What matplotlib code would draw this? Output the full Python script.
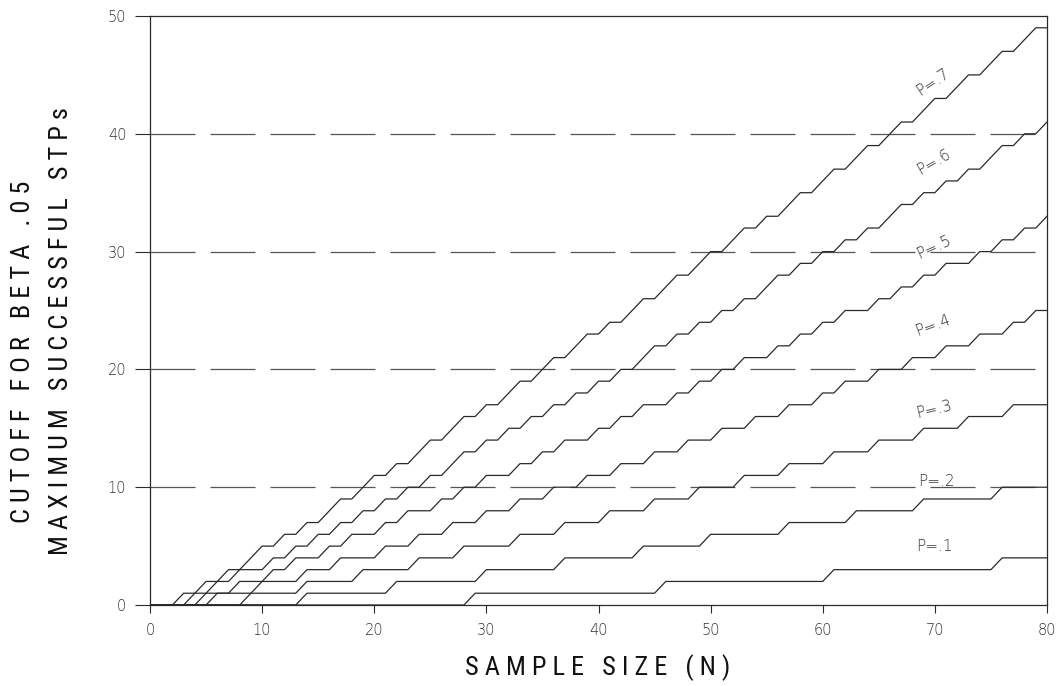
import numpy as np
import matplotlib
matplotlib.use('Agg')
import matplotlib.pyplot as plt

# sample sizes plotted along the x axis
sample_sizes = np.arange(0, 81)

# sample size at which each cutoff curve steps up by one
steps_p1 = [29, 46, 61, 76]
steps_p2 = [14, 22, 30, 37, 44, 50, 57, 63, 69, 76]
steps_p3 = [9, 14, 19, 24, 28, 33, 37, 41, 45, 49, 53, 57, 61, 65, 69, 73, 77]
steps_p4 = [6, 10, 14, 17, 21, 24, 27, 30, 33, 36, 39, 42, 45, 48, 51, 54, 57,
            60, 62, 65, 68, 71, 74, 77, 79]
steps_p5 = [5, 8, 11, 13, 16, 18, 21, 23, 26, 28, 30, 33, 35, 37, 40, 42, 44,
            47, 49, 51, 53, 56, 58, 60, 62, 65, 67, 69, 71, 74, 76, 78, 80]
steps_p6 = [4, 6, 8, 11, 13, 15, 17, 19, 21, 23, 25, 27, 28, 30, 32, 34, 36,
            38, 40, 42, 44, 45, 47, 49, 51, 53, 55, 56, 58, 60, 62, 64, 66,
            67, 69, 71, 73, 75, 76, 78, 80]
steps_p7 = [3, 5, 7, 9, 10, 12, 14, 16, 17, 19, 20, 22, 24, 25, 27, 28, 30, 32,
            33, 35, 36, 38, 39, 41, 43, 44, 46, 47, 49, 50, 52, 53, 55, 57, 58,
            60, 61, 63, 64, 66, 67, 69, 70, 72, 73, 75, 76, 78, 79]

curve_names = ['P=.1', 'P=.2', 'P=.3', 'P=.4', 'P=.5', 'P=.6', 'P=.7']
curve_steps = [steps_p1, steps_p2, steps_p3, steps_p4, steps_p5, steps_p6, steps_p7]

# where each curve label sits (data coords) and its tilt
label_x = [70.0, 70.1, 69.9, 69.8, 69.9, 69.9, 69.8]
label_y = [5.0, 10.5, 16.6, 23.7, 30.4, 37.6, 44.4]
label_rot = [0, 0, 13, 20, 25, 30, 34]

x_ticks = [0, 10, 20, 30, 40, 50, 60, 70, 80]
y_ticks = [0, 10, 20, 30, 40, 50]
grid_levels = [10, 20, 30, 40]

ink = '#2a2a2a'
label_font = ['DejaVu Sans Condensed', 'Liberation Sans Narrow', 'Roboto Condensed', 'DejaVu Sans']


def spaced(text):
    return '   '.join(' '.join(word) for word in text.split(' '))


fig = plt.figure(figsize=(10.6, 6.86), dpi=100)
ax = fig.add_axes([150 / 1060, 81 / 686, 897 / 1060, 589 / 686])

for level in grid_levels:
    ax.axhline(level, color='#555555', lw=0.9, dashes=(36, 12), zorder=1)

for name, steps in zip(curve_names, curve_steps):
    cutoff = np.searchsorted(steps, sample_sizes, side='right')
    ax.plot(sample_sizes, cutoff, color=ink, lw=0.9, zorder=2)

for name, x, y, rot in zip(curve_names, label_x, label_y, label_rot):
    ax.text(x, y, name, fontsize=11, color='#333333', rotation=rot,
            ha='center', va='center', fontweight='light',
            rotation_mode='anchor', zorder=3)

ax.set_xlim(0, 80)
ax.set_ylim(0, 50)
ax.set_xticks(x_ticks)
ax.set_yticks(y_ticks)
ax.tick_params(axis='x', direction='out', length=6, width=0.8, pad=7,
               labelsize=10.5, labelcolor='#333333', color=ink)
ax.tick_params(axis='y', direction='out', length=11, width=0.8, pad=6,
               labelsize=10.5, labelcolor='#333333', color=ink)
for lbl in ax.get_xticklabels() + ax.get_yticklabels():
    lbl.set_fontweight('light')
for spine in ax.spines.values():
    spine.set_linewidth(0.9)
    spine.set_color(ink)

label_style = dict(family=label_font, fontstretch='condensed', fontweight='normal',
                   fontsize=19, color='#111111', ha='center', va='center')
fig.text(598 / 1060, 1 - 668 / 686, spaced('SAMPLE SIZE (N)'), **label_style)
fig.text(23 / 1060, 1 - 352 / 686, spaced('CUTOFF FOR BETA .05'), rotation=90, **label_style)
fig.text(61 / 1060, 1 - 331 / 686, spaced('MAXIMUM SUCCESSFUL STPs'), rotation=90, **label_style)

fig.savefig('out.png', dpi=100)
